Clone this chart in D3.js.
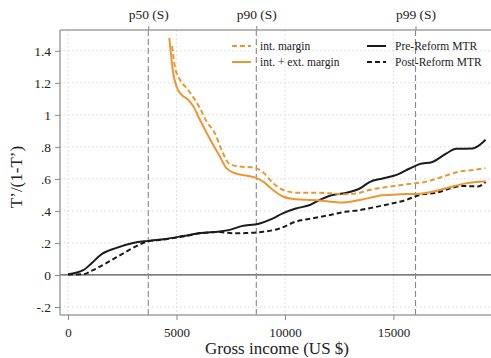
<!DOCTYPE html>
<html><head><meta charset="utf-8">
<script src="https://cdn.jsdelivr.net/npm/d3@7"></script>
<style>html,body{margin:0;padding:0;background:#fff;}svg{display:block;}</style>
</head><body>
<script>
// ---- data ----
const xTicks = [0, 5000, 10000, 15000];
const xTickLabels = ["0", "5000", "10000", "15000"];
const yTicks = [-0.2, 0, 0.2, 0.4, 0.6, 0.8, 1, 1.2, 1.4];
const yTickLabels = ["-.2", "0", ".2", ".4", ".6", ".8", "1", "1.2", "1.4"];
const pctNames = ["p50 (S)", "p90 (S)", "p99 (S)"];
const pctValues = [3700, 8680, 16020];

const preReform = [[0,0.005],[700,0.03],[1100,0.075],[1500,0.125],[2200,0.168],[3000,0.2],[3700,0.213],[4500,0.225],[5300,0.243],[6100,0.262],[7000,0.272],[7400,0.28],[8000,0.305],[8800,0.32],[9400,0.35],[9900,0.385],[10500,0.415],[11150,0.437],[11600,0.468],[12100,0.496],[12800,0.512],[13450,0.54],[13900,0.58],[14500,0.603],[15150,0.625],[15750,0.665],[16200,0.692],[16800,0.706],[17450,0.76],[17900,0.788],[18650,0.79],[18900,0.805],[19250,0.845]];
const postReform = [[0,0.003],[700,0.004],[1150,0.03],[1800,0.077],[2550,0.135],[3150,0.18],[3700,0.21],[4500,0.223],[5300,0.24],[6100,0.26],[7000,0.268],[7600,0.26],[8200,0.262],[9000,0.27],[9750,0.29],[10500,0.333],[11300,0.354],[12100,0.375],[12850,0.396],[13450,0.405],[13900,0.417],[14850,0.444],[15600,0.469],[16200,0.5],[17000,0.514],[17600,0.54],[18200,0.556],[18900,0.553],[19250,0.58]];
const intExtMargin = [[4670,1.48],[4850,1.26],[5000,1.177],[5240,1.125],[5550,1.094],[5780,1.052],[6080,0.969],[6400,0.885],[6700,0.81],[7000,0.74],[7300,0.667],[7700,0.635],[8250,0.62],[8700,0.605],[9000,0.583],[9450,0.531],[9900,0.49],[10500,0.473],[11300,0.468],[12100,0.458],[12700,0.453],[13450,0.468],[14500,0.498],[15300,0.504],[16050,0.506],[16850,0.521],[17600,0.548],[18350,0.572],[19250,0.585]];
const intMargin = [[4800,1.43],[4930,1.30],[5160,1.219],[5470,1.167],[5700,1.125],[6080,1.042],[6390,0.958],[6770,0.885],[7080,0.78],[7470,0.69],[7930,0.677],[8540,0.672],[9000,0.64],[9460,0.573],[9920,0.531],[10540,0.514],[11300,0.514],[12075,0.51],[12840,0.504],[13450,0.514],[13900,0.531],[14840,0.552],[15760,0.569],[16530,0.583],[17300,0.615],[18060,0.646],[18680,0.656],[19250,0.667]];

const seriesNames = ["int. margin", "int. + ext. margin", "Pre-Reform MTR", "Post-Reform MTR"];

// ---- layout ----
const W = 491, H = 358;
const L = 60, R = 491, T = 30, B = 315;
const ORANGE = "#EC962F", BLACK = "#1b1b1b";
const FONT = "'Liberation Serif', 'Times New Roman', serif";

const svg = d3.select("body").append("svg").attr("width", W).attr("height", H)
  .style("font-family", FONT);

const x = d3.scaleLinear().domain([-370, 19500]).range([L, R]);
const y = d3.scaleLinear().domain([-0.25, 1.53]).range([B, T]);

// gridlines
const grid = svg.append("g");
grid.selectAll("line.h").data(yTicks).join("line")
  .attr("x1", L).attr("x2", R).attr("y1", d => y(d)).attr("y2", d => y(d))
  .attr("stroke", "#d6d6d6").attr("stroke-width", 1).attr("stroke-dasharray", "1.5,2.5");
grid.selectAll("line.v").data(xTicks).join("line")
  .attr("y1", T).attr("y2", B).attr("x1", d => x(d)).attr("x2", d => x(d))
  .attr("stroke", "#d6d6d6").attr("stroke-width", 1).attr("stroke-dasharray", "1.5,2.5");

// zero line
svg.append("line").attr("x1", L).attr("x2", R).attr("y1", y(0)).attr("y2", y(0))
  .attr("stroke", "#555").attr("stroke-width", 1.3);

// percentile lines
svg.selectAll("line.p").data(pctValues).join("line")
  .attr("x1", d => x(d)).attr("x2", d => x(d)).attr("y1", T).attr("y2", B)
  .attr("stroke", "#888").attr("stroke-width", 1.1).attr("stroke-dasharray", "6,3");

// axes
const yAxis = d3.axisLeft(y).tickValues(yTicks).tickFormat((d, i) => yTickLabels[i]).tickSize(5).tickPadding(4);
const gy = svg.append("g").attr("transform", `translate(${L},0)`).call(yAxis);
const xAxis = d3.axisBottom(x).tickValues(xTicks).tickFormat((d, i) => xTickLabels[i]).tickSize(5).tickPadding(8);
const gx = svg.append("g").attr("transform", `translate(0,${B})`).call(xAxis);
const tAxis = d3.axisTop(x).tickValues(pctValues).tickFormat((d, i) => pctNames[i]).tickSize(4).tickPadding(7);
const gt = svg.append("g").attr("transform", `translate(0,${T})`).call(tAxis);

[gy, gx, gt].forEach(g => {
  g.select(".domain").attr("stroke", "#a0a0a0").attr("stroke-width", 1.5);
  g.selectAll(".tick line").attr("stroke", "#888");
  g.selectAll("text").attr("fill", "#222").style("font-family", FONT).style("font-size", "13.5px");
});
gx.selectAll("text").style("font-size", "13px");
gt.select(".domain").attr("d", `M${L},0H${R}`);
gx.select(".domain").attr("d", `M${L},0H${R}`);
gy.select(".domain").attr("d", `M0,${T}V${B}`);

// lines
const line = d3.line().x(d => x(d[0])).y(d => y(d[1])).curve(d3.curveMonotoneX);
const plotSeries = [
  {data: postReform, color: BLACK, dash: "5,3"},
  {data: preReform, color: BLACK, dash: null},
  {data: intMargin, color: ORANGE, dash: "5,3"},
  {data: intExtMargin, color: ORANGE, dash: null}
];
plotSeries.forEach(s => {
  svg.append("path").attr("d", line(s.data)).attr("fill", "none")
    .attr("stroke", s.color).attr("stroke-width", 2)
    .attr("stroke-dasharray", s.dash);
});

// legend
const legend = [
  {name: seriesNames[0], color: ORANGE, dash: "5,3", lx: 232, ly: 46},
  {name: seriesNames[1], color: ORANGE, dash: null, lx: 232, ly: 62},
  {name: seriesNames[2], color: BLACK, dash: null, lx: 367, ly: 46},
  {name: seriesNames[3], color: BLACK, dash: "5,3", lx: 367, ly: 62}
];
const lg = svg.append("g");
legend.forEach(l => {
  lg.append("line").attr("x1", l.lx).attr("x2", l.lx + 19).attr("y1", l.ly).attr("y2", l.ly)
    .attr("stroke", l.color).attr("stroke-width", 2).attr("stroke-dasharray", l.dash);
  lg.append("text").attr("x", l.lx + 28).attr("y", l.ly + 4).text(l.name)
    .attr("fill", "#222").style("font-size", "11.5px");
});

// axis titles
svg.append("text").attr("x", 277).attr("y", 354).attr("text-anchor", "middle")
  .attr("fill", "#222").style("font-size", "17px").text("Gross income (US $)");
svg.append("text").attr("transform", "translate(22,177) rotate(-90)").attr("text-anchor", "middle")
  .attr("fill", "#222").style("font-size", "17px").text("T’/(1-T’)");
</script>
</body></html>
